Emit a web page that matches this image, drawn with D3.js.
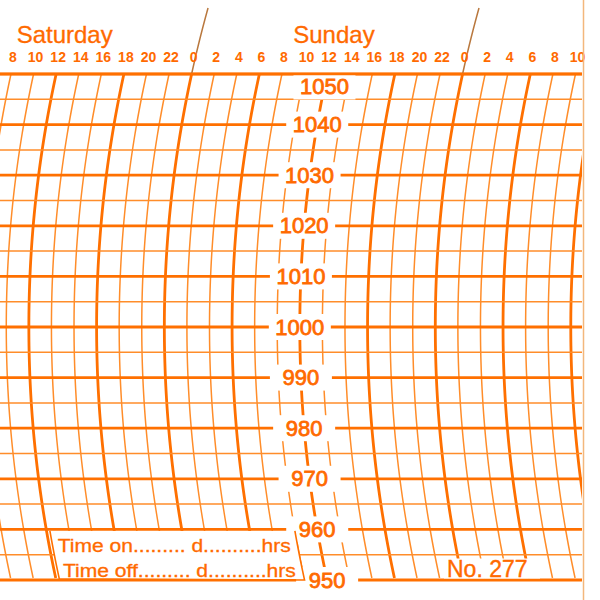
<!DOCTYPE html>
<html>
<head>
<meta charset="utf-8">
<script src="https://cdn.jsdelivr.net/npm/d3@7/dist/d3.min.js"></script>
<style>
  html, body { margin: 0; padding: 0; background: #fff; }
  svg { display: block; }
</style>
</head>
<body>
<svg id="chart" width="600" height="600"></svg>
<script>
// chart data
const dayNames = ["Saturday", "Sunday"];
const dayLabelHours = [8.5, 33];           // hours counted from Saturday 0:00
const tickHours = [8, 10, 12, 14, 16, 18, 20, 22, 24, 26, 28, 30, 32,
                   34, 36, 38, 40, 42, 44, 46, 48, 50, 52, 54, 56, 58];
const penMarkHours = [24, 48];             // midnight marks above the grid
const pressureLabels = [1050, 1040, 1030, 1020, 1010, 1000, 990, 980, 970, 960, 950];
const labelHour = 36;                      // pressure labels sit on Sunday 12h
const noteLines = ["Time on......... d..........hrs", "Time off......... d..........hrs"];
const chartNumber = "No. 277";

const width = 600, height = 600;
const gridTop = 74, gridBottom = 580, gridRight = 582;
const thickColor = "#ff7000", thinColor = "#ff8d2a", textColor = "#ff6a00";

const x = d3.scaleLinear().domain([8, 58]).range([11, 575.5]);
const y = d3.scaleLinear().domain([950, 1050]).range([gridBottom, gridTop]);

// pen arm arc
const R = 1186, yc = y(1000);
function bend(yy) { return R - Math.sqrt(R * R - (yy - yc) * (yy - yc)); }
function arcX(t, yy) { return x(t) - bend(gridTop) + bend(yy); }

const svg = d3.select("#chart");
svg.append("rect").attr("width", width).attr("height", height).attr("fill", "#fff");

svg.append("defs").append("clipPath").attr("id", "gridClip")
   .append("rect").attr("x", 0).attr("y", 0).attr("width", gridRight).attr("height", height);

const grid = svg.append("g").attr("clip-path", "url(#gridClip)");

// time arcs every 2 hours
const ySamples = d3.range(gridTop, gridBottom + 0.1, 4);
const arcLine = (t, ys) => d3.line().x(d => arcX(t, d)).y(d => d)(ys);

grid.selectAll(".vline")
    .data(d3.range(4, 64, 2))
    .enter()
    .append("path")
    .attr("class", "vline")
    .attr("d", d => arcLine(d, ySamples))
    .attr("fill", "none")
    .attr("stroke", d => d % 6 === 0 ? thickColor : thinColor)
    .attr("stroke-width", d => d % 6 === 0 ? 2.8 : 1.5);

// pressure lines every 5 hPa
grid.selectAll(".hline")
    .data(d3.range(950, 1051, 5))
    .enter()
    .append("line")
    .attr("class", "hline")
    .attr("x1", 0).attr("x2", gridRight)
    .attr("y1", d => y(d)).attr("y2", d => y(d))
    .attr("stroke", d => d % 10 === 0 ? thickColor : thinColor)
    .attr("stroke-width", d => d % 10 === 0 ? 2.8 : 1.5);

// midnight pen marks above the grid
svg.selectAll(".pen")
   .data(penMarkHours)
   .enter()
   .append("path")
   .attr("d", d => arcLine(d, d3.range(8, gridTop + 0.1, 2)))
   .attr("fill", "none")
   .attr("stroke", "#b9783e")
   .attr("stroke-width", 1.5);

// pressure labels with white knockouts
const labelY = p => p === 1050 ? y(p) + 12.5 : y(p);
svg.selectAll(".knock")
   .data(pressureLabels)
   .enter()
   .append("rect")
   .attr("x", d => arcX(labelHour, labelY(d)) - 31)
   .attr("y", d => labelY(d) - 13)
   .attr("width", 62)
   .attr("height", 26)
   .attr("fill", "#fff");

// top border redrawn over the knockout
svg.append("line")
   .attr("x1", 0).attr("x2", gridRight)
   .attr("y1", y(1050)).attr("y2", y(1050))
   .attr("stroke", thickColor).attr("stroke-width", 2.4);

svg.selectAll(".plabel")
   .data(pressureLabels)
   .enter()
   .append("text")
   .attr("x", d => arcX(labelHour, labelY(d)))
   .attr("y", d => labelY(d))
   .attr("text-anchor", "middle")
   .attr("dominant-baseline", "central")
   .attr("font-family", "Liberation Sans, Arial, sans-serif")
   .attr("font-size", 22)
   .attr("fill", textColor)
   .attr("stroke", textColor)
   .attr("stroke-width", 0.8)
   .text(d => d);

// day names and hour ticks
svg.selectAll(".day")
   .data(dayNames)
   .enter()
   .append("text")
   .attr("x", (d, i) => x(dayLabelHours[i]))
   .attr("y", 43)
   .attr("font-family", "Liberation Sans, Arial, sans-serif")
   .attr("font-size", 24)
   .attr("fill", textColor)
   .attr("stroke", textColor)
   .attr("stroke-width", 0.3)
   .text(d => d);

svg.selectAll(".hour")
   .data(tickHours)
   .enter()
   .append("text")
   .attr("x", d => x(d) + 2)
   .attr("y", 62)
   .attr("text-anchor", "middle")
   .attr("font-family", "Liberation Sans, Arial, sans-serif")
   .attr("font-size", 14)
   .attr("font-weight", "bold")
   .attr("fill", textColor)
   .text(d => d % 24);

// time on / off box
const boxLeft = 12.3, boxRight = 34;
const boxYs = d3.range(y(960) + 1.5, y(950) + 0.1, 2);
const boxPts = boxYs.map(d => [arcX(boxLeft, d), d])
  .concat(boxYs.slice().reverse().map(d => [arcX(boxRight, d), d]));
svg.append("path")
   .attr("d", d3.line()(boxPts) + "Z")
   .attr("fill", "#fff");
svg.append("path")
   .attr("d", d3.line()(boxYs.map(d => [arcX(boxLeft, d), d])
     .concat([[arcX(boxRight, y(950)), y(950)]])
     .concat(boxYs.slice().reverse().map(d => [arcX(boxRight, d), d]))))
   .attr("fill", "none")
   .attr("stroke", thickColor)
   .attr("stroke-width", 1.6);

svg.selectAll(".note")
   .data(noteLines)
   .enter()
   .append("text")
   .attr("x", (d, i) => arcX(boxLeft, 552 + i * 25) + 4)
   .attr("y", (d, i) => 552 + i * 25)
   .attr("textLength", 233)
   .attr("lengthAdjust", "spacingAndGlyphs")
   .attr("font-family", "Liberation Sans, Arial, sans-serif")
   .attr("font-size", 18)
   .attr("fill", textColor)
   .attr("stroke", textColor)
   .attr("stroke-width", 0.3)
   .text(d => d);

// chart number
svg.append("rect")
   .attr("x", 444).attr("y", 558.5)
   .attr("width", 96).attr("height", 20)
   .attr("fill", "#fff");
svg.append("text")
   .attr("x", 447).attr("y", 577)
   .attr("font-family", "Liberation Sans, Arial, sans-serif")
   .attr("font-size", 23)
   .attr("fill", textColor)
   .attr("stroke", textColor)
   .attr("stroke-width", 0.4)
   .text(chartNumber);

// paper edge
svg.append("line")
   .attr("x1", 583.5).attr("x2", 583.5)
   .attr("y1", 0).attr("y2", height)
   .attr("stroke", "#f3b77c")
   .attr("stroke-width", 1.5);
</script>
</body>
</html>
